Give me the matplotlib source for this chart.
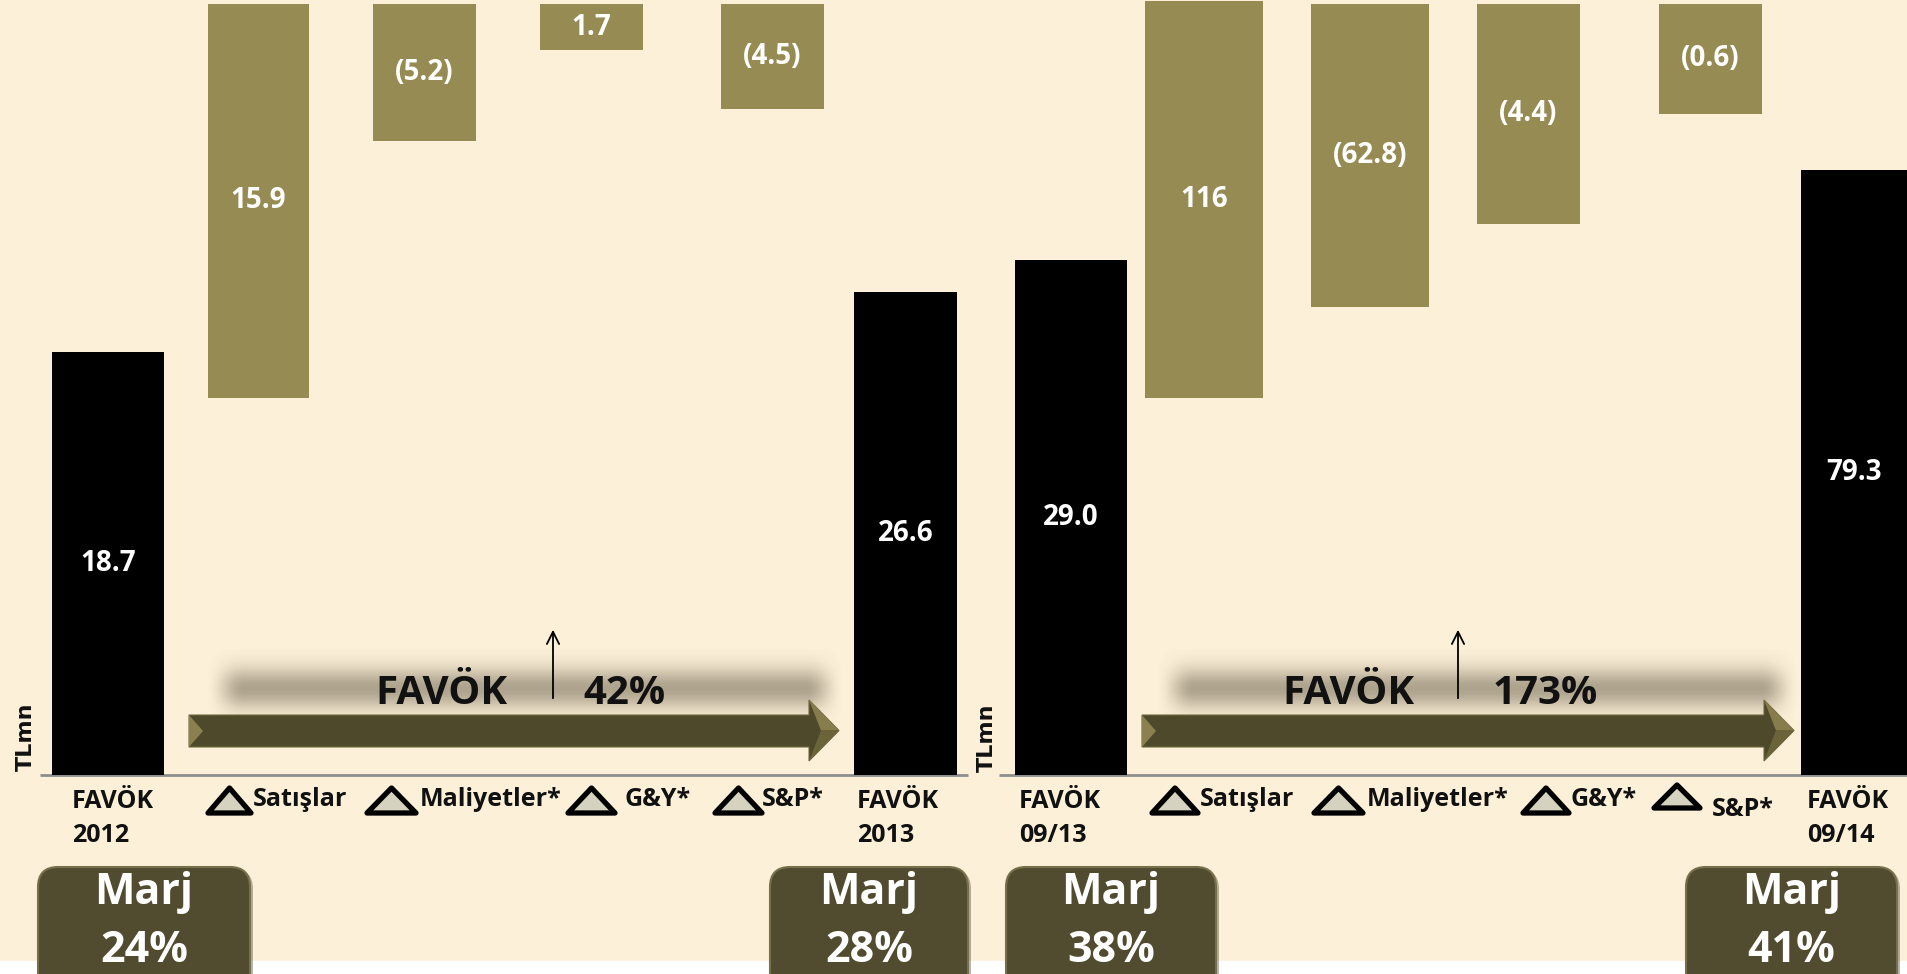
import numpy as np
import matplotlib
matplotlib.use("Agg")
import matplotlib.pyplot as plt
from matplotlib.patches import Polygon, FancyBboxPatch

plt.rcParams['font.family'] = ['Open Sans', 'DejaVu Sans']

# ---------------- data ----------------
left_categories = ['FAVÖK\n2012', 'Satışlar', 'Maliyetler*', 'G&Y*', 'S&P*', 'FAVÖK\n2013']
left_values = [18.7, 15.9, -5.2, 1.7, -4.5, 26.6]
left_bar_bottom = [0, 48.7, 81.8, 93.5, 85.9, 0]        # visual extent (chart units)
left_bar_top = [54.6, 99.5, 99.5, 99.5, 99.5, 62.3]
left_margins = ['24%', '28%']
left_growth = '42%'

right_categories = ['FAVÖK\n09/13', 'Satışlar', 'Maliyetler*', 'G&Y*', 'S&P*', 'FAVÖK\n09/14']
right_values = [29.0, 116, -62.8, -4.4, -0.6, 79.3]
right_bar_bottom = [0, 48.6, 60.4, 71.1, 85.3, 0]
right_bar_top = [66.4, 99.9, 99.5, 99.5, 99.5, 78.1]
right_margins = ['38%', '41%']
right_growth = '173%'

# ---------------- layout ----------------
W, H = 1907, 974
BASE = 775.0
PX = 7.75


def yu(ypx):
    return (BASE - ypx) / PX


BG = '#FCF0D8'
OLIVE = '#968B53'
DARK = '#4E492B'

fig = plt.figure(figsize=(W / 100, H / 100), dpi=100)
fig.patch.set_facecolor(BG)
ax = fig.add_axes([0, 0, 1, 1])
ax.set_facecolor(BG)
ax.axis('off')


def fmt(v):
    s = '%.0f' % abs(v) if abs(v) >= 100 else '%.1f' % abs(v)
    return '(%s)' % s if v < 0 else s


panels = [
    dict(cats=left_categories, vals=left_values, bot=left_bar_bottom, top=left_bar_top,
         margins=left_margins, growth=left_growth,
         centers=[108, 258.5, 424.5, 591.5, 772.5, 905.5],
         widths=[112, 101, 103, 103, 103, 103],
         fav_x=[72, 857],
         tri=[(208, 251, 788, 813, 253), (367, 416, 788, 813, 420),
              (568, 615, 788, 813, 624), (715, 762, 788, 813, 762)],
         tri_text_y=[800, 800, 800, 800],
         arrow=(189, 809, 839), favok_x=441, growth_x=624, up_x=553,
         shadow=(205, 845),
         boxes=[(38, 250), (770, 968)], tlmn=(26, 737)),
    dict(cats=right_categories, vals=right_values, bot=right_bar_bottom, top=right_bar_top,
         margins=right_margins, growth=right_growth,
         centers=[1071, 1204, 1370, 1528.5, 1710.5, 1854],
         widths=[112, 118, 118, 103, 103, 106],
         fav_x=[1019, 1807],
         tri=[(1152, 1198, 788, 813, 1200), (1314, 1363, 788, 813, 1367),
              (1523, 1569, 788, 813, 1571), (1654, 1700, 785, 808, 1712)],
         tri_text_y=[800, 800, 800, 809],
         arrow=(1142, 1764, 1794), favok_x=1348, growth_x=1545, up_x=1458,
         shadow=(1155, 1800),
         boxes=[(1006, 1216), (1686, 1897)], tlmn=(987, 738)),
]

# white strip at the bottom
ax.axhspan(yu(H + 5), yu(961), color='white', zorder=0.5)

# baseline
ax.plot([40, 968], [0, 0], color='#8E8E8E', lw=2, zorder=1, solid_capstyle='butt')
ax.plot([999, W], [0, 0], color='#8E8E8E', lw=2, zorder=1, solid_capstyle='butt')

for p in panels:
    n = len(p['vals'])
    colors = ['black'] + [OLIVE] * (n - 2) + ['black']
    heights = [t - b for t, b in zip(p['top'], p['bot'])]
    ax.bar(p['centers'], heights, bottom=p['bot'], width=p['widths'],
           color=colors, zorder=3, linewidth=0)
    for c, b, t, v in zip(p['centers'], p['bot'], p['top'], p['vals']):
        ax.text(c, (b + t) / 2, fmt(v), color='white', fontsize=20, fontweight='bold',
                ha='center', va='center', zorder=5)

    # category labels
    first, last = p['cats'][0].split('\n'), p['cats'][-1].split('\n')
    for fx, lines in zip(p['fav_x'], [first, last]):
        ax.text(fx, yu(802), lines[0], fontsize=18, fontweight='bold', ha='left',
                va='center', color='#111111', zorder=5)
        ax.text(fx, yu(836), lines[1], fontsize=18, fontweight='bold', ha='left',
                va='center', color='#111111', zorder=5)
    for (x0, x1, yt, yb, tx), ty, lab in zip(p['tri'], p['tri_text_y'], p['cats'][1:-1]):
        tri = Polygon([(x0, yu(yb)), (x1, yu(yb)), ((x0 + x1) / 2, yu(yt))], closed=True,
                      facecolor='#D5D2BF', edgecolor='black', lw=3.8, joinstyle='round',
                      zorder=5)
        ax.add_patch(tri)
        ax.text(tx, yu(ty), lab, fontsize=18, fontweight='bold', ha='left', va='center',
                color='#111111', zorder=5)

    # shadow band behind growth text
    sx0, sx1 = p['shadow']
    xs = np.linspace(0, 1, 400)
    ys = np.linspace(0, 1, 100)
    ramp = np.clip(np.minimum(xs, 1 - xs) / 0.06, 0, 1)
    ramp = ramp * ramp * (3 - 2 * ramp)
    yy = (ys - 0.5) / 0.26
    prof = np.exp(-yy ** 2)
    alpha = 0.6 * prof[:, None] * ramp[None, :]
    img = np.zeros((100, 400, 4))
    img[..., 0] = 0.48
    img[..., 1] = 0.44
    img[..., 2] = 0.36
    img[..., 3] = alpha
    ax.imshow(img, extent=(sx0, sx1, yu(728), yu(650)), aspect='auto', zorder=1.5,
              interpolation='bilinear')

    # big arrow
    a0, h0, tip = p['arrow']
    body = Polygon([(a0, yu(715)), (h0, yu(715)), (h0, yu(700)), (tip, yu(730.5)),
                    (h0, yu(761)), (h0, yu(747)), (a0, yu(747))], closed=True,
                   facecolor=DARK, edgecolor='#6F6842', lw=0.8, zorder=2)
    ax.add_patch(body)
    ax.add_patch(Polygon([(h0, yu(700)), (tip, yu(730.5)), (h0 + 12, yu(730.5))],
                         closed=True, facecolor='#877D4C', lw=0, zorder=2.1))
    ax.add_patch(Polygon([(h0, yu(761)), (tip, yu(730.5)), (h0 + 12, yu(730.5))],
                         closed=True, facecolor='#6C6439', lw=0, zorder=2.1))
    ax.add_patch(Polygon([(a0, yu(715)), (a0 + 14, yu(731)), (a0, yu(747))],
                         closed=True, facecolor='#8A8050', lw=0, zorder=2.1))

    ax.text(p['favok_x'], yu(694), 'FAVÖK', fontsize=29, fontweight='bold',
            ha='center', va='center', color='#111111', zorder=5)
    ax.text(p['growth_x'], yu(694), p['growth'], fontsize=29, fontweight='bold',
            ha='center', va='center', color='#111111', zorder=5)
    ax.annotate('', xy=(p['up_x'], yu(627)), xytext=(p['up_x'], yu(701)),
                arrowprops=dict(arrowstyle='->', lw=1.3, color='black',
                                mutation_scale=22), zorder=5)

    # TLmn
    tx, ty = p['tlmn']
    ax.text(tx, yu(ty), 'TLmn', rotation=90, fontsize=16, fontweight='bold',
            family=['DejaVu Sans'], ha='center', va='center', color='#111111', zorder=5)

    # margin boxes
    for (bx0, bx1), m in zip(p['boxes'], p['margins']):
        shadow = FancyBboxPatch((bx0 + 3, yu(995)), bx1 - bx0, yu(869) - yu(995),
                                boxstyle='round,pad=0,rounding_size=20',
                                mutation_aspect=1 / PX, facecolor='#2E2B1C', alpha=0.35,
                                lw=0, zorder=3)
        ax.add_patch(shadow)
        box = FancyBboxPatch((bx0, yu(993)), bx1 - bx0, yu(867) - yu(993),
                             boxstyle='round,pad=0,rounding_size=20',
                             mutation_aspect=1 / PX, facecolor='#514C2F',
                             edgecolor='#77704C', lw=1.5, zorder=4)
        ax.add_patch(box)
        cx = (bx0 + bx1) / 2
        ax.text(cx, yu(892), 'Marj', fontsize=31, fontweight='bold', color='white',
                ha='center', va='center', zorder=5)
        ax.text(cx, yu(950), m, fontsize=31, fontweight='bold', color='white',
                ha='center', va='center', zorder=5)

ax.set_xlim(0, W)
ax.set_ylim(yu(H), yu(0))

fig.savefig('out.png', dpi=100, facecolor=BG)
